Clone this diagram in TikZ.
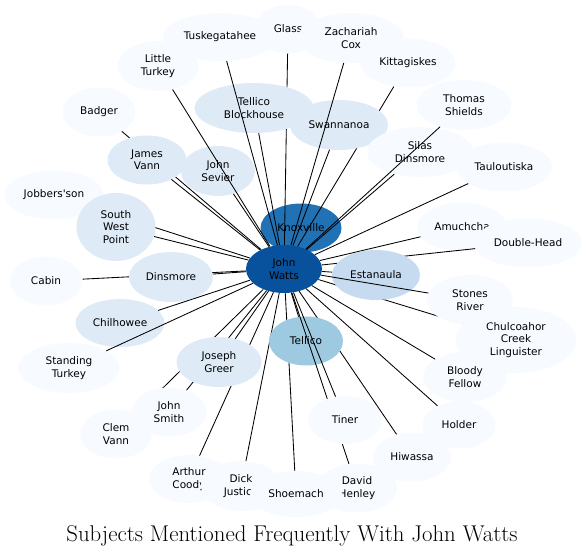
\documentclass[tikz,border=0pt]{standalone}
\usepackage{fontspec}
\usetikzlibrary{shapes.geometric}
\newfontfamily\nodefont{DejaVu Sans}
\definecolor{blue0}{RGB}{247,251,255}
\definecolor{blue1}{RGB}{222,235,247}
\definecolor{blue2}{RGB}{198,219,239}
\definecolor{blue3}{RGB}{158,202,225}
\definecolor{blue5}{RGB}{33,113,181}
\definecolor{blue6}{RGB}{8,81,156}
\begin{document}
\begin{tikzpicture}[x=1pt,y=-1pt,
  font=\nodefont\fontsize{10.5}{12.4}\selectfont,
  person/.style={ellipse,inner sep=0pt,align=center,minimum height=49},
  pale/.style={person,fill=blue0},
  soft/.style={person,fill=blue1},
  link/.style={line width=0.85pt}]
  \useasboundingbox (0,0) rectangle (587,556);
  % hub and the city behind it
  \node[person,fill=blue5,minimum width=81] (knox) at (301,228) {Knoxville};
  \node[person,fill=blue6,minimum width=76,minimum height=48] (jw) at (284,269) {John\\Watts};
  % top
  \node[pale,minimum width=66] (glass) at (288,29) {Glass}; \draw[link] (jw) -- (glass);
  \node[pale,minimum width=106,minimum height=50] (zcox) at (351,38) {Zachariah\\Cox};
  \node[pale,minimum width=95] (kitt) at (408,63) {Kittagiskes}; \draw[link] (jw) -- (kitt);
  \node[soft,minimum width=119,minimum height=50] (tblock) at (254,108) {Tellico\\Blockhouse}; \draw[link] (jw) -- (tblock);
  \node[pale,minimum width=114,minimum height=48] (tusk) at (220,37) {Tuskegatahee}; \draw[link] (jw) -- (tusk);
  \node[soft,minimum width=98,minimum height=50] (swan) at (339,125) {Swannanoa}; \draw[link] (jw) -- (swan);
  \draw[link] (jw) -- (zcox);
  \node[soft,minimum width=74,minimum height=50] (sevier) at (218,171) {John\\Sevier}; \draw[link] (jw) -- (sevier);
  \node[pale,minimum width=81,minimum height=50] (lturkey) at (158,66) {Little\\Turkey}; \draw[link] (jw) -- (lturkey);
  % left
  \node[pale,minimum width=73] (badger) at (99,112) {Badger}; \draw[link] (jw) -- (badger);
  \node[soft,minimum width=79] (jvann) at (147,160) {James\\Vann}; \draw[link] (jw) -- (jvann);
  \node[pale,minimum width=99] (jobbers) at (54,195) {Jobbers'son}; \draw[link] (jw) -- (jobbers);
  \node[soft,minimum width=79,minimum height=68] (swp) at (116,227) {South\\West\\Point}; \draw[link] (jw) -- (swp);
  \node[pale,minimum width=73] (cabin) at (46,281) {Cabin}; \draw[link] (jw) -- (cabin);
  \node[soft,minimum width=84,minimum height=50] (dins) at (171,277) {Dinsmore}; \draw[link] (jw) -- (dins);
  \node[soft,minimum width=89,minimum height=48] (chil) at (120,323) {Chilhowee}; \draw[link] (jw) -- (chil);
  \node[pale,minimum width=101,minimum height=50] (sturkey) at (69,368) {Standing\\Turkey}; \draw[link] (jw) -- (sturkey);
  % bottom left
  \node[pale,minimum width=72] (clem) at (116,434) {Clem\\Vann}; \draw[link] (jw) -- (clem);
  \node[pale,minimum width=75] (jsmith) at (169,412) {John\\Smith}; \draw[link] (jw) -- (jsmith);
  \node[pale,minimum width=80,minimum height=48] (coody) at (189,479) {Arthur\\Coody}; \draw[link] (jw) -- (coody);
  \node[soft,minimum width=85,minimum height=50] (greer) at (219,362) {Joseph\\Greer}; \draw[link] (jw) -- (greer);
  \node[pale,minimum width=80,minimum height=50] (dick) at (241,486) {Dick\\Justice}; \draw[link] (jw) -- (dick);
  % bottom
  \node[pale,minimum width=80] (henley) at (357,488) {David\\Henley};
  \node[pale,minimum width=92,minimum height=46] (shoe) at (296,494) {Shoemach}; \draw[link] (jw) -- (shoe);
  \node[pale,minimum width=78] (hiw) at (412,457) {Hiwassa}; \draw[link] (jw) -- (hiw);
  \node[person,fill=blue3,minimum width=74] (tellico) at (306,341) {Tellico}; \draw[link] (jw) -- (tellico);
  \draw[link] (jw) -- (henley);
  \node[pale,minimum width=74,minimum height=48] (tiner) at (345,420) {Tiner}; \draw[link] (jw) -- (tiner);
  % right
  \node[pale,minimum width=73,minimum height=47] (holder) at (459,425) {Holder}; \draw[link] (jw) -- (holder);
  \node[pale,minimum width=84,minimum height=50] (bloody) at (465,377) {Bloody\\Fellow}; \draw[link] (jw) -- (bloody);
  \node[pale,minimum width=120,minimum height=66] (chulc) at (516,340) {Chulcoahor\\Creek\\Linguister}; \draw[link] (jw) -- (chulc);
  \node[pale,minimum width=86,minimum height=50] (stones) at (470,300) {Stones\\River};
  \node[pale,minimum width=90] (amuch) at (462,227) {Amuchcha}; \draw[link] (jw) -- (amuch);
  \node[pale,minimum width=108] (dhead) at (528,243) {Double-Head}; \draw[link] (jw) -- (dhead);
  \node[person,fill=blue2,minimum width=88,minimum height=50] (estan) at (376,275) {Estanaula}; \draw[link] (jw) -- (estan);
  \draw[link] (jw) -- (stones);
  \node[pale,minimum width=96] (taul) at (504,167) {Tauloutiska}; \draw[link] (jw) -- (taul);
  \node[pale,minimum width=106,minimum height=50] (silas) at (420,152) {Silas\\Dinsmore}; \draw[link] (jw) -- (silas);
  \node[pale,minimum width=95,minimum height=50] (thomas) at (464,105) {Thomas\\Shields}; \draw[link] (jw) -- (thomas);
  % title
  \node[font=\rmfamily\fontsize{22.8}{26}\selectfont,anchor=base] (title) at (292,541) {Subjects Mentioned Frequently With John Watts};
\end{tikzpicture}
\end{document}
